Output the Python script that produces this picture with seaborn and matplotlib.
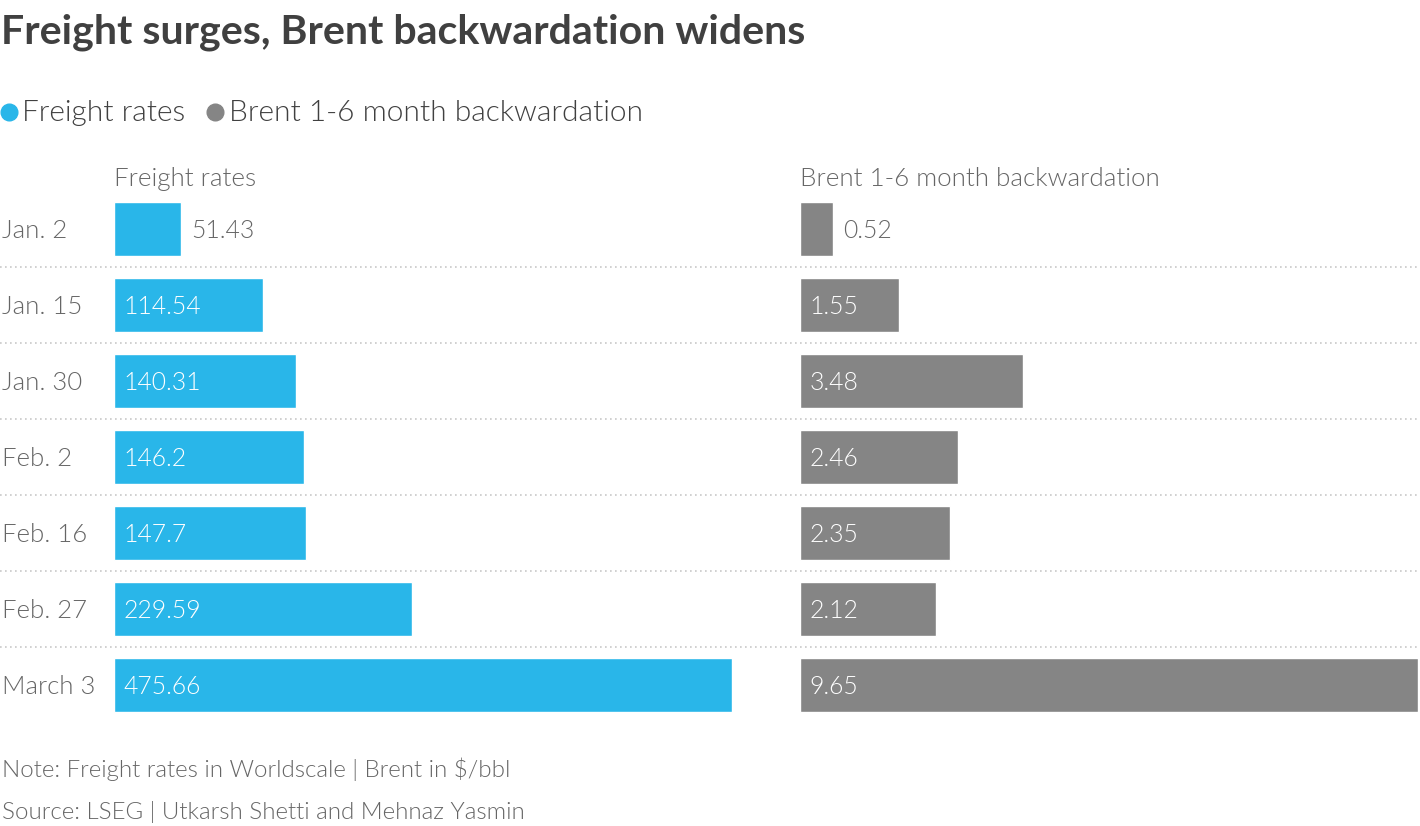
import matplotlib
matplotlib.use("Agg")
import matplotlib.pyplot as plt
import matplotlib.transforms as mtransforms
from matplotlib.lines import Line2D
import seaborn as sns
import pandas as pd

dates = ["Jan. 2", "Jan. 15", "Jan. 30", "Feb. 2", "Feb. 16", "Feb. 27", "March 3"]
freight = [51.43, 114.54, 140.31, 146.2, 147.7, 229.59, 475.66]
brent = [0.52, 1.55, 3.48, 2.46, 2.35, 2.12, 9.65]
freight_labels = ["51.43", "114.54", "140.31", "146.2", "147.7", "229.59", "475.66"]
brent_labels = ["0.52", "1.55", "3.48", "2.46", "2.35", "2.12", "9.65"]

BLUE = "#29b6e9"
GREY = "#858585"
TXT = "#666666"
DARK = "#404040"
LW = 300  # light text weight

sns.set_theme(style="white")
plt.rcParams["font.family"] = ["Lato", "DejaVu Sans"]

W, H = 1420, 826
fig = plt.figure(figsize=(W / 100, H / 100), dpi=100)
fig.patch.set_facecolor("white")

def fx(px):
    return px / W

def fy(py):
    return 1 - py / H

top, bottom = 191, 723
axL = fig.add_axes([fx(114), fy(bottom), fx(732 - 114), (bottom - top) / H])
axR = fig.add_axes([fx(800), fy(bottom), fx(1418 - 800), (bottom - top) / H])

df = pd.DataFrame({"date": dates, "freight": freight, "brent": brent})

for ax, col, color, labels in [(axL, "freight", BLUE, freight_labels),
                               (axR, "brent", GREY, brent_labels)]:
    sns.barplot(data=df, x=col, y="date", ax=ax, color=color, width=0.71,
                saturation=1, orient="h")
    vmax = max(df[col])
    ax.set_xlim(0, vmax)
    ax.set_ylim(6.5, -0.5)
    ax.axis("off")
    for i, (v, lab) in enumerate(zip(df[col], labels)):
        if v / vmax > 0.13:
            ax.annotate(lab, xy=(0, i), xytext=(6.8, -1.4), textcoords="offset points",
                        ha="left", va="center", color="white", fontsize=17.8,
                        fontweight=LW)
        else:
            ax.annotate(lab, xy=(v, i), xytext=(7.2, -1.4), textcoords="offset points",
                        ha="left", va="center", color=TXT, fontsize=17.8,
                        fontweight=LW)

# category labels
trans = mtransforms.blended_transform_factory(fig.transFigure, axL.transData)
for i, d in enumerate(dates):
    fig.text(fx(2), i + 0.025, d, transform=trans, ha="left", va="center",
             color=TXT, fontsize=18.5, fontweight=LW)

# dotted separators
for i in range(len(dates) - 1):
    fig.add_artist(Line2D([0, fx(1418)], [i + 0.5, i + 0.5], transform=trans,
                          color="#c8c8c8", lw=1.2, linestyle=(0, (1, 2))))

# panel headers
fig.text(fx(114), fy(179), "Freight rates", ha="left", va="center",
         color=TXT, fontsize=18.7, fontweight=LW)
fig.text(fx(800), fy(179), "Brent 1-6 month backwardation", ha="left", va="center",
         color=TXT, fontsize=18.7, fontweight=LW)

# title
fig.text(fx(1), fy(32), "Freight surges, Brent backwardation widens", ha="left",
         va="center", color=DARK, fontsize=29.6, fontweight="bold")

# legend
fig.add_artist(Line2D([fx(9)], [fy(112)], marker="o", markersize=12, color=BLUE,
                      transform=fig.transFigure, linestyle="none"))
fig.text(fx(22), fy(113), "Freight rates", ha="left", va="center",
         color=DARK, fontsize=21.5, fontweight=LW)
fig.add_artist(Line2D([fx(215)], [fy(112)], marker="o", markersize=12, color=GREY,
                      transform=fig.transFigure, linestyle="none"))
fig.text(fx(229), fy(113), "Brent 1-6 month backwardation", ha="left", va="center",
         color=DARK, fontsize=21.5, fontweight=LW)

# notes
fig.text(fx(2), fy(769), "Note: Freight rates in Worldscale | Brent in $/bbl",
         ha="left", va="center", color=TXT, fontsize=17.4, fontweight=LW)
fig.text(fx(2), fy(812), "Source: LSEG | Utkarsh Shetti and Mehnaz Yasmin",
         ha="left", va="center", color=TXT, fontsize=17.4, fontweight=LW)

fig.savefig("out.png", dpi=100, facecolor="white")
